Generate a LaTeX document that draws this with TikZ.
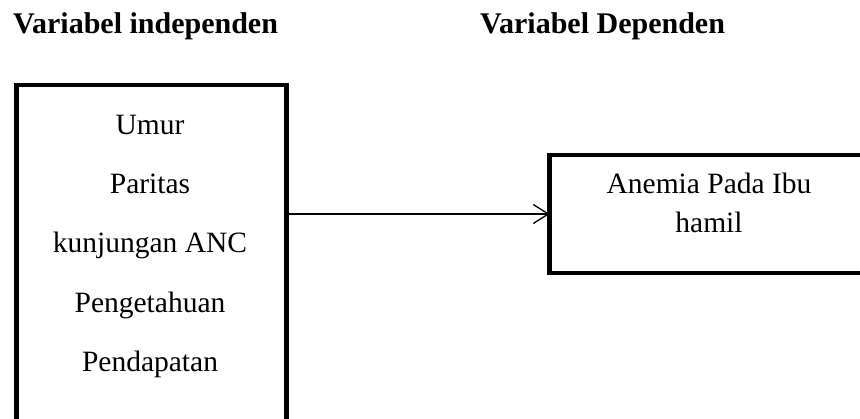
\documentclass[tikz,border=0pt]{standalone}
\usepackage{fontspec}
\setmainfont{Liberation Serif}
\usetikzlibrary{arrows.meta}
\tikzset{
  boxstyle/.style={draw=black, line width=4.5pt, rectangle, inner sep=0pt, outer sep=0pt},
  titletext/.style={font=\fontsize{30}{36}\selectfont\bfseries, anchor=base west, inner sep=0pt},
  bodytext/.style={font=\fontsize{29.5}{36}\selectfont, anchor=base, inner sep=0pt},
  connector/.style={line width=1.3pt, -{Straight Barb[length=15pt, width=19pt, line width=1.3pt]}}
}
\begin{document}
\begin{tikzpicture}[x=1pt, y=-1pt]
\useasboundingbox (0,0) rectangle (860,419);
\fill[white] (0,0) rectangle (860,419);
% titles
\node[titletext] (t1) at (13,34) {Variabel independen};
\node[titletext] (t2) at (480,34) {Variabel Dependen};
% boxes
\node[boxstyle, minimum width=270pt, minimum height=360pt] (indep) at (151.5,265) {};
\node[boxstyle, minimum width=330pt, minimum height=118pt] (dep) at (714.5,214) {};
% left texts
\node[bodytext] (l1) at (150,135) {Umur};
\node[bodytext] (l2) at (150,194) {Paritas};
\node[bodytext] (l3) at (150,253) {kunjungan ANC};
\node[bodytext] (l4) at (150,312.5) {Pengetahuan};
\node[bodytext] (l5) at (150,372) {Pendapatan};
% right texts
\node[bodytext] (r1) at (709,194) {Anemia Pada Ibu};
\node[bodytext] (r2) at (709,233) {hamil};
% connector
\draw[connector] (indep.east |- dep.west) -- (dep.west);
\end{tikzpicture}
\end{document}
